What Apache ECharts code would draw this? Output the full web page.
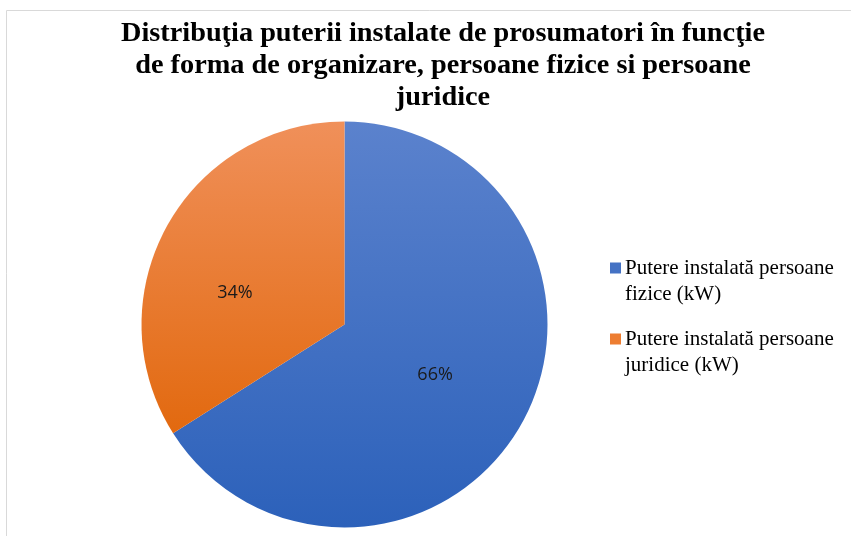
<!DOCTYPE html>
<html><head><meta charset="utf-8">
<script src="https://cdn.jsdelivr.net/npm/echarts@6/dist/echarts.min.js"></script>
<style>html,body{margin:0;padding:0;background:#fff}#c{width:851px;height:536px}</style>
</head><body><div id="c"></div>
<script>
var titleText = 'Distribuţia puterii instalate de prosumatori în funcţie\nde forma de organizare, persoane fizice si persoane\njuridice';
var categories = ['Putere instalată persoane fizice (kW)', 'Putere instalată persoane juridice (kW)'];
var legendLabels = ['Putere instalată persoane\nfizice (kW)', 'Putere instalată persoane\njuridice (kW)'];
var values = [66, 34];

var chart = echarts.init(document.getElementById('c'), null, {renderer: 'canvas'});
function grad(top, bottom) {
  return {type: 'linear', x: 0, y: 0, x2: 0, y2: 1, colorStops: [{offset: 0, color: top}, {offset: 1, color: bottom}]};
}
var colors = [grad('#5b82cd', '#2c61ba'), grad('#f0905a', '#e2690f')];
var solid = ['#4472c4', '#ed7d31'];
var labelOffsets = [[-1, 0], [-18, 19]];
chart.setOption({
  animation: false,
  graphic: [{type: 'rect', shape: {x: 6.5, y: 10.5, width: 900, height: 600}, style: {fill: 'none', stroke: '#d9d9d9', lineWidth: 1}, silent: true}],
  title: {
    text: titleText, left: 438, top: 13, textAlign: 'center',
    textStyle: {fontFamily: 'Liberation Serif', fontWeight: 'bold', fontSize: 28.3, lineHeight: 32, color: '#000'}
  },
  legend: {
    orient: 'vertical', left: 605, top: 250, itemWidth: 11, itemHeight: 37, itemGap: 19,
    icon: 'path://M0,0H11V11H0Z M0,37H0.001V37.001H0Z',
    data: categories.map(function (c, i) { return {name: c, itemStyle: {color: solid[i]}}; }),
    formatter: function (n) { return legendLabels[categories.indexOf(n)]; },
    textStyle: {fontFamily: 'Liberation Serif', fontSize: 21, lineHeight: 26, color: '#000', padding: [0, 0, 0, -1]}
  },
  series: [{
    type: 'pie', center: [344.5, 324.5], radius: 203, startAngle: 90, clockwise: true,
    label: {position: 'inside', formatter: '{d}%', fontFamily: 'Open Sans', fontSize: 18, color: '#1a1a1a'},
    labelLine: {show: false},
    emphasis: {disabled: true},
    data: categories.map(function (c, i) {
      return {name: c, value: values[i], itemStyle: {color: colors[i]}, label: {offset: labelOffsets[i]}};
    })
  }]
});
</script></body></html>
